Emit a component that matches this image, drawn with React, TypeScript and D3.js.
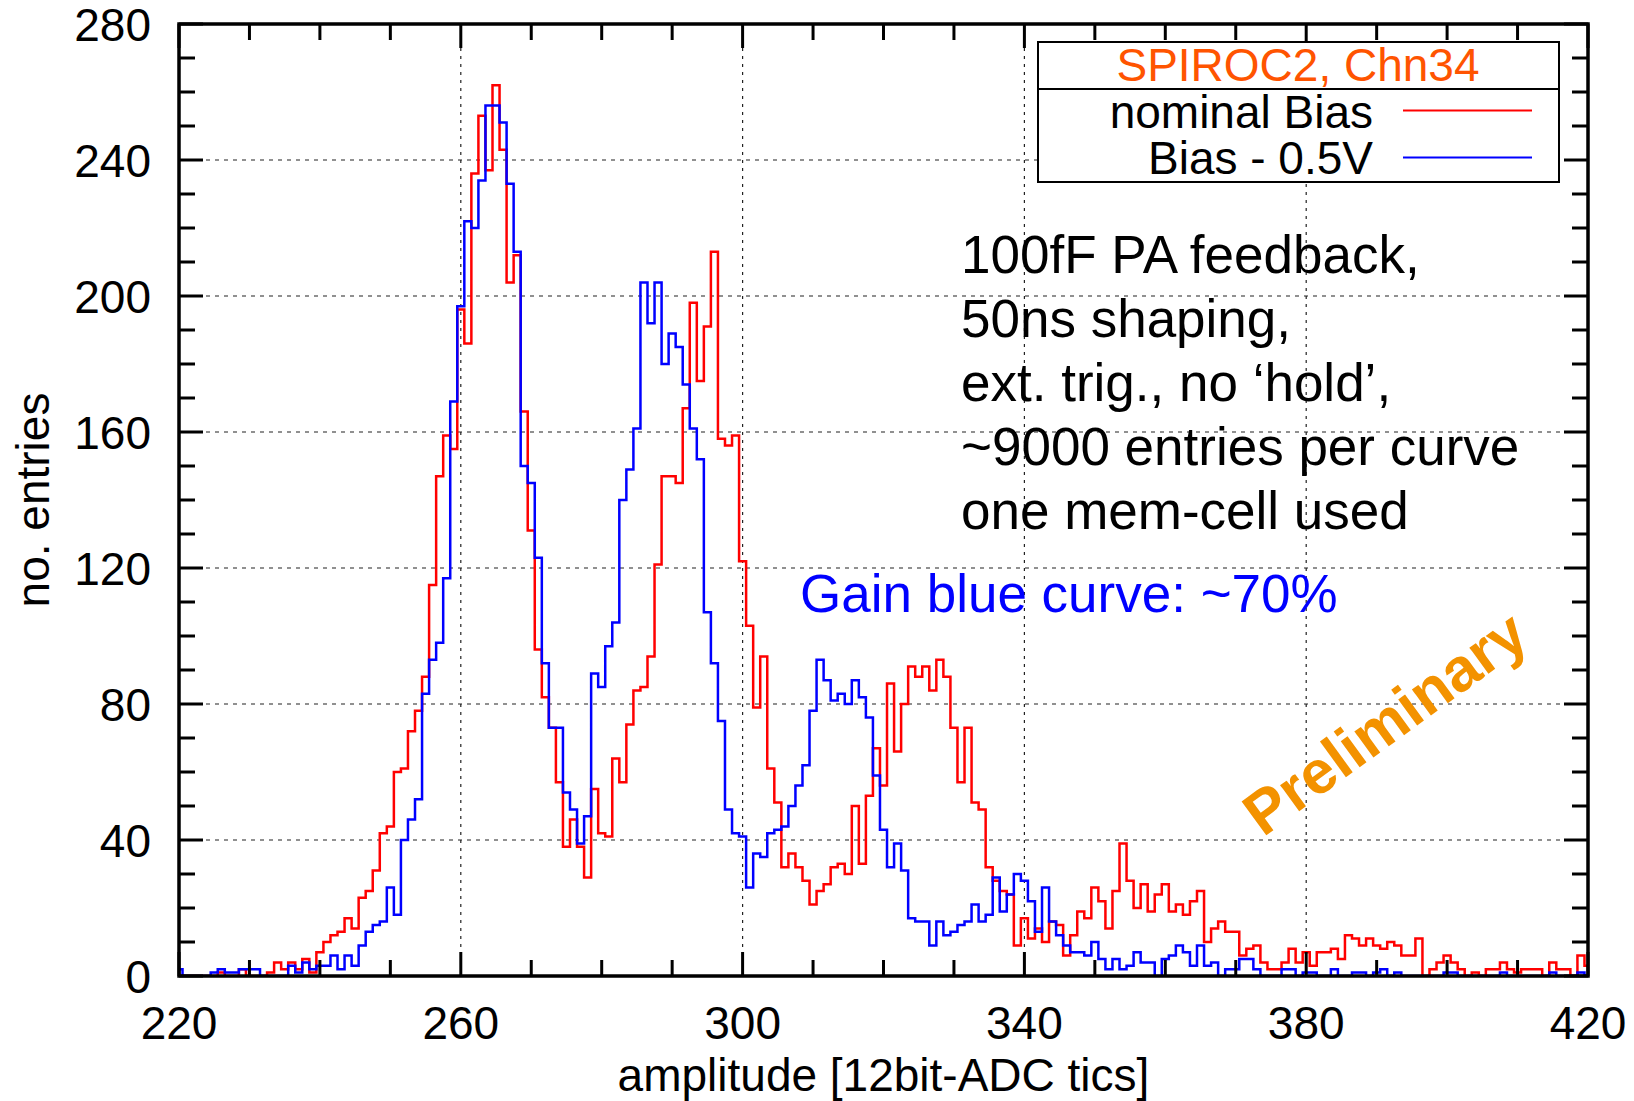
import React from "react";
import * as d3 from "d3";

// ---------- data ----------
const ADC_START = 220; // first bin centre; bins are 1 ADC tic wide, centred on integers
const nominalBias = [
  0, 0, 0, 0, 0, 0, 1, 0, 0, 2,
  0, 0, 0, 1, 4, 2, 4, 2, 5, 1,
  7, 10, 12, 13, 17, 14, 23, 25, 31, 42,
  44, 60, 61, 72, 78, 88, 115, 147, 159, 155,
  196, 186, 236, 253, 237, 262, 243, 204, 212, 166,
  131, 96, 82, 73, 57, 38, 46, 38, 29, 55,
  42, 41, 64, 57, 74, 84, 85, 94, 121, 147,
  147, 145, 167, 198, 175, 191, 213, 158, 156, 159,
  122, 103, 79, 94, 61, 51, 32, 36, 32, 28,
  21, 25, 27, 32, 33, 30, 50, 33, 53, 67,
  56, 86, 66, 80, 91, 88, 91, 84, 93, 88,
  73, 57, 73, 51, 49, 32, 28, 25, 24, 9,
  17, 11, 14, 10, 16, 15, 6, 12, 19, 17,
  26, 22, 14, 25, 39, 28, 20, 27, 19, 24,
  27, 19, 21, 18, 22, 25, 10, 14, 16, 13,
  13, 6, 8, 9, 4, 2, 2, 4, 8, 4,
  7, 3, 7, 7, 8, 5, 12, 11, 9, 11,
  9, 8, 10, 9, 6, 6, 11, 0, 2, 4,
  6, 4, 2, 0, 1, 0, 2, 2, 4, 2,
  1, 2, 2, 2, 0, 4, 2, 2, 0, 6,
  3,
];
const biasMinus05 = [
  2, 0, 0, 0, 0, 1, 2, 1, 1, 2,
  2, 2, 0, 0, 0, 0, 3, 1, 4, 2,
  3, 3, 6, 2, 6, 3, 9, 13, 15, 16,
  26, 18, 40, 46, 52, 83, 93, 98, 117, 169,
  197, 222, 220, 234, 256, 256, 251, 233, 213, 150,
  145, 123, 92, 73, 73, 54, 49, 39, 47, 89,
  85, 97, 104, 140, 149, 161, 204, 192, 204, 180,
  189, 185, 174, 161, 152, 107, 92, 75, 49, 42,
  41, 26, 36, 35, 42, 43, 44, 50, 56, 62,
  78, 93, 87, 81, 83, 80, 87, 82, 76, 59,
  43, 32, 39, 31, 17, 16, 16, 9, 16, 12,
  13, 15, 16, 21, 16, 18, 29, 19, 24, 30,
  28, 22, 13, 26, 16, 12, 9, 7, 7, 6,
  10, 5, 2, 5, 2, 3, 7, 4, 4, 0,
  5, 6, 9, 7, 3, 9, 3, 4, 0, 2,
  2, 5, 5, 2, 0, 0, 0, 2, 2, 0,
  1, 1, 0, 0, 2, 0, 0, 1, 1, 0,
  1, 2, 0, 1, 0, 0, 0, 0, 0, 0,
  1, 1, 0, 0, 0, 0, 0, 0, 1, 0,
  0, 0, 0, 0, 0, 1, 0, 0, 0, 1,
  0,
];
const xTickValues = [220, 260, 300, 340, 380, 420];
const yTickValues = [0, 40, 80, 120, 160, 200, 240, 280];
const xGridValues = [260, 300, 340, 380];
const yGridValues = [40, 80, 120, 160, 200, 240];
const legendTitle = "SPIROC2, Chn34";
const seriesNames = ["nominal Bias", "Bias - 0.5V"];
const annotationLines = [
  "100fF PA feedback,",
  "50ns shaping,",
  "ext. trig., no \u2018hold\u2019,",
  "~9000 entries per curve",
  "one mem-cell used",
];
const gainText = "Gain blue curve: ~70%";

// ---------- layout ----------
const W = 1634;
const H = 1101;
const L = 179, R = 1588, T = 24, B = 976;
const FONT = "'Liberation Sans', Arial, Helvetica, sans-serif";

const x = d3.scaleLinear().domain([220, 420]).range([L, R]);
const y = d3.scaleLinear().domain([0, 280]).range([B, T]);

function histPath(values: number[]): string {
  const pts: [number, number][] = values.map((v, i) => [ADC_START + i - 0.5, v]);
  pts.push([ADC_START + values.length - 0.5, values[values.length - 1]]);
  const line = d3
    .line<[number, number]>()
    .x((d) => x(d[0]))
    .y((d) => y(d[1]))
    .curve(d3.curveStepAfter);
  return line(pts) || "";
}

export default function App() {
  const xMinor = d3.range(220, 421, 10);
  const yMinor = d3.range(0, 281, 10);
  const major = 24, minor = 16;
  return (
    <svg
      width={W}
      height={H}
      viewBox={`0 0 ${W} ${H}`}
      style={{ position: "absolute", left: 0, top: 0, background: "#fff" }}
      fontFamily={FONT}
    >
      <rect x={0} y={0} width={W} height={H} fill="#fff" />
      <defs>
        <clipPath id="plotclip">
          <rect x={L} y={T} width={R - L} height={B - T} />
        </clipPath>
      </defs>

      {/* grid */}
      <g stroke="#222" strokeWidth={1.2} strokeDasharray="4,5">
        {yGridValues.map((v) => (
          <line key={"gy" + v} x1={L} x2={R} y1={y(v)} y2={y(v)} />
        ))}
        {xGridValues.map((v) => (
          <line key={"gx" + v} x1={x(v)} x2={x(v)} y1={T} y2={B} strokeDasharray="3,5" />
        ))}
      </g>

      {/* annotations */}
      <g fontSize={53} fill="#000">
        {annotationLines.map((s, i) => (
          <text key={s} x={961} y={273 + i * 64}>
            {s}
          </text>
        ))}
      </g>
      <text x={800} y={612} fontSize={53} fill="#0000ff">
        {gainText}
      </text>
      <text
        x={0}
        y={0}
        fontSize={61}
        fontWeight="bold"
        fill="#f39200"
        textAnchor="middle"
        dominantBaseline="central"
        transform="translate(1385,723) rotate(-36)"
      >
        Preliminary
      </text>

      {/* histograms */}
      <g clipPath="url(#plotclip)" fill="none" strokeWidth={2.5} strokeLinejoin="miter">
        <path d={histPath(nominalBias)} stroke="#ff0000" />
        <path d={histPath(biasMinus05)} stroke="#0000ff" />
      </g>

      {/* ticks */}
      <g stroke="#000" strokeWidth={3}>
        {xMinor.map((v) => {
          const len = xTickValues.includes(v) ? major : minor;
          return (
            <g key={"xt" + v}>
              <line x1={x(v)} x2={x(v)} y1={B} y2={B - len} />
              <line x1={x(v)} x2={x(v)} y1={T} y2={T + len} />
            </g>
          );
        })}
        {yMinor.map((v) => {
          const len = yTickValues.includes(v) ? major : minor;
          return (
            <g key={"yt" + v}>
              <line x1={L} x2={L + len} y1={y(v)} y2={y(v)} />
              <line x1={R} x2={R - len} y1={y(v)} y2={y(v)} />
            </g>
          );
        })}
      </g>

      {/* frame */}
      <rect x={L} y={T} width={R - L} height={B - T} fill="none" stroke="#000" strokeWidth={3.5} />

      {/* tick labels */}
      <g fontSize={46} fill="#000">
        {xTickValues.map((v) => (
          <text key={"xl" + v} x={x(v)} y={1039} textAnchor="middle">
            {v}
          </text>
        ))}
        {yTickValues.map((v) => (
          <text key={"yl" + v} x={151} y={y(v) + 16.5} textAnchor="end">
            {v}
          </text>
        ))}
      </g>

      {/* axis titles */}
      <text x={(L + R) / 2} y={1091} fontSize={46} textAnchor="middle" fill="#000">
        amplitude [12bit-ADC tics]
      </text>
      <text
        x={0}
        y={0}
        fontSize={46}
        textAnchor="middle"
        fill="#000"
        transform="translate(49,500) rotate(-90)"
      >
        no. entries
      </text>

      {/* legend */}
      <g>
        <rect x={1038} y={42} width={521} height={140} fill="#fff" stroke="#000" strokeWidth={2} />
        <line x1={1038} x2={1559} y1={89} y2={89} stroke="#000" strokeWidth={2} />
        <text x={1298} y={81} fontSize={46} textAnchor="middle" fill="#ff5400">
          {legendTitle}
        </text>
        <text x={1373} y={128} fontSize={46} textAnchor="end" fill="#000">
          {seriesNames[0]}
        </text>
        <line x1={1403} x2={1532} y1={110.5} y2={110.5} stroke="#ff0000" strokeWidth={2} />
        <text x={1373} y={174} fontSize={46} textAnchor="end" fill="#000">
          {seriesNames[1]}
        </text>
        <line x1={1403} x2={1532} y1={157.5} y2={157.5} stroke="#0000ff" strokeWidth={2} />
      </g>
    </svg>
  );
}
